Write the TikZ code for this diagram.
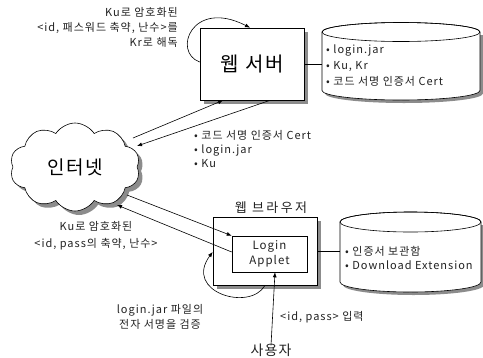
\documentclass[tikz,border=0pt]{standalone}
\usepackage{fontspec}
\setmainfont{Noto Sans CJK KR}[LetterSpace=9]
\usetikzlibrary{shapes.symbols,shadows,arrows.meta}
\definecolor{shd}{HTML}{8C8C8C}
\definecolor{txt}{HTML}{222222}
\tikzset{
  lbl/.style={font=\fontsize{11}{15}\selectfont, text=txt, inner sep=0pt},
  boxed/.style={draw=black, line width=0.7pt, fill=white, inner sep=0pt,
    drop shadow={shadow xshift=4pt, shadow yshift=-4pt, fill=shd, opacity=1}},
  arr/.style={draw=black, line width=0.6pt, -{Latex[length=5pt,width=4pt]}},
  ln/.style={draw=black, line width=0.6pt},
}
\begin{document}
\begin{tikzpicture}[x=1pt,y=-1pt]
\useasboundingbox (0,0) rectangle (483,357);
% cylinder 1
\fill[shd, shift={(3,3)}] (322,32) -- (322,90.5) arc[start angle=180,end angle=360,x radius=79pt,y radius=9.5pt] -- (480,32) -- cycle;
\filldraw[fill=white, draw=black, line width=0.6pt] (322,32) -- (322,90.5) arc[start angle=180,end angle=360,x radius=79pt,y radius=9.5pt] -- (480,32) arc[start angle=0,end angle=180,x radius=79pt,y radius=9.5pt] -- cycle;
\draw[line width=0.6pt] (401,32) ellipse[x radius=79pt, y radius=9.5pt];
\node[inner sep=0pt, minimum width=158pt, minimum height=60pt] (db1) at (401,63) {};
\node[lbl, align=left, anchor=west, font=\fontsize{11}{16}\selectfont] (db1t) at (326,66) {• login.jar\\• Ku, Kr\\• 코드 서명 인증서 Cert};
% cylinder 2
\fill[shd, shift={(3,3)}] (340,222) -- (340,282) arc[start angle=180,end angle=360,x radius=70.5pt,y radius=10pt] -- (481,222) -- cycle;
\filldraw[fill=white, draw=black, line width=0.6pt] (340,222) -- (340,282) arc[start angle=180,end angle=360,x radius=70.5pt,y radius=10pt] -- (481,222) arc[start angle=0,end angle=180,x radius=70.5pt,y radius=10pt] -- cycle;
\draw[line width=0.6pt] (410.5,222) ellipse[x radius=70.5pt, y radius=10pt];
\node[inner sep=0pt, minimum width=141pt, minimum height=60pt] (db2) at (410.5,252) {};
\node[lbl, align=left, anchor=west, font=\fontsize{11}{14}\selectfont] (db2t) at (345,258) {• 인증서 보관함\\• Download Extension};
% server
\node[boxed, minimum width=104pt, minimum height=72pt, font=\fontsize{20}{20}\selectfont\addfontfeature{LetterSpace=8}] (server) at (252,64) {웹 서버};
\draw[ln] (server.east) -- (db1.west |- server.east);
% browser
\node[boxed, minimum width=104pt, minimum height=68pt] (browser) at (265,251) {};
\node[draw=black, line width=0.6pt, fill=white, minimum width=75pt, minimum height=36pt, inner sep=0pt, align=center, font=\fontsize{11.5}{15}\selectfont, text=txt] (applet) at (269.5,254) {Login\\Applet};
\node[lbl, font=\fontsize{13}{13}\selectfont\addfontfeature{LetterSpace=18}] (btitle) at (271,208) {웹 브라우저};
\draw[ln] (browser.east) -- (db2.west |- browser.east);
% cloud
\node[cloud, cloud puffs=10, cloud puff arc=115, aspect=1.45, draw=black, line width=0.6pt, fill=white,
  minimum width=130pt, minimum height=88pt, inner sep=0pt,
  drop shadow={shadow xshift=4pt, shadow yshift=-4pt, fill=shd, opacity=1},
  font=\fontsize{19}{19}\selectfont] (net) at (75,167) {인터넷};
% connector endpoints
\coordinate (c1) at (133,138);
\coordinate (c2) at (137,146);
\coordinate (c3) at (127,195);
\coordinate (c4) at (117,205);
\draw[arr] (c1) -- ([xshift=-29pt]server.south);
\draw[arr] ([xshift=18pt]server.south) -- (c2);
\draw[arr] (c3) -- (applet.north west);
\draw[arr] ([yshift=2pt]applet.west) -- (c4);
% self loops
\draw[arr] ([yshift=2pt]server.west) .. controls (172,52) and (192,-2) .. ([xshift=-2pt]server.north);
\draw[arr] ([xshift=0pt]browser.south) .. controls (250,312) and (183,292) .. ([yshift=-1pt]browser.west);
% user
\node[lbl, font=\fontsize{14}{14}\selectfont\addfontfeature{LetterSpace=8}] (user) at (271,350) {사용자};
\draw[arr] ([yshift=-2pt]user.north) -- ([xshift=5.5pt]applet.south);
% labels
\node[lbl, align=right, anchor=east] (t1) at (178,27) {Ku로 암호화된\\<id, 패스워드 축약, 난수>를\\Kr로 해독};
\node[lbl, align=left, anchor=west, font=\fontsize{11}{14}\selectfont] (t2) at (194,149) {• 코드 서명 인증서 Cert\\• login.jar\\• Ku};
\node[lbl, align=center, font=\fontsize{11}{17}\selectfont] (t3) at (96,236) {Ku로 암호화된\\<id, pass의 축약, 난수>};
\node[lbl, align=center] (t4) at (160,317) {login.jar 파일의\\전자 서명을 검증};
\node[lbl, anchor=west] (t5) at (280,317) {<id, pass> 입력};
\end{tikzpicture}
\end{document}
